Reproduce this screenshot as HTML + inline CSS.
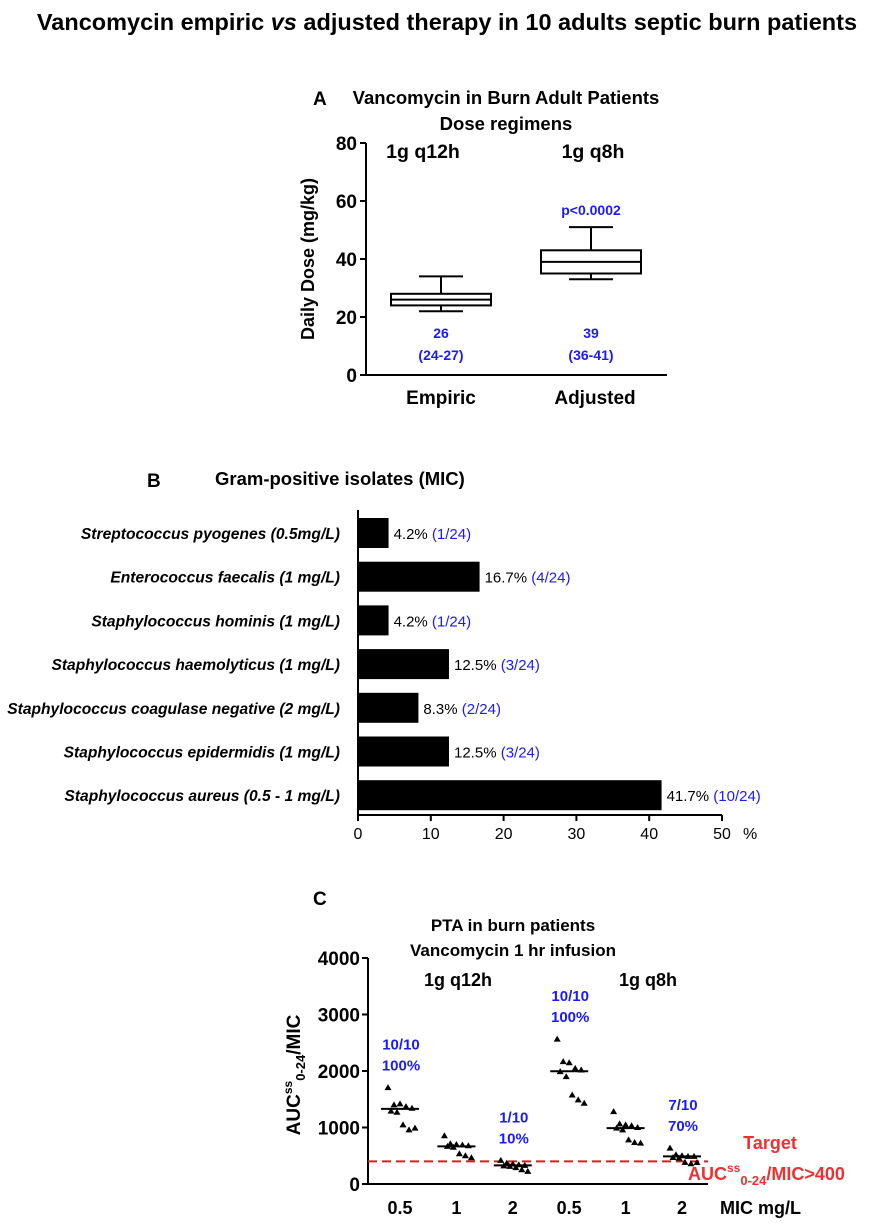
<!DOCTYPE html>
<html><head><meta charset="utf-8"><style>
body{margin:0;background:#fff;}
svg text{font-family:"Liberation Sans",sans-serif;}
</style></head><body>
<svg id="fig" width="894" height="1221" xmlns="http://www.w3.org/2000/svg">
<text x="447" y="30" text-anchor="middle" font-size="23.5" font-weight="bold">Vancomycin empiric <tspan font-style="italic">vs</tspan> adjusted therapy in 10 adults septic burn patients</text>
<g id="A"></g>
<g id="B"></g>
<g id="C"></g>
</svg>
<script>
// Panel A data
const aCategories=["Empiric","Adjusted"];
const aMin=[22,33],aQ1=[24,35],aMed=[26,39],aQ3=[28,43],aMax=[34,51];
const aTicks=[0,20,40,60,80];
const aLabels=[["26","(24-27)"],["39","(36-41)"]];
// Panel B data
const bCategories=["Streptococcus pyogenes (0.5mg/L)","Enterococcus faecalis (1 mg/L)","Staphylococcus  hominis (1 mg/L)","Staphylococcus haemolyticus (1 mg/L)","Staphylococcus  coagulase negative (2 mg/L)","Staphylococcus  epidermidis (1 mg/L)","Staphylococcus  aureus (0.5 - 1 mg/L)"];
const bValues=[4.2,16.7,4.2,12.5,8.3,12.5,41.7];
const bCounts=["(1/24)","(4/24)","(1/24)","(3/24)","(2/24)","(3/24)","(10/24)"];
const bTicks=[0,10,20,30,40,50];
// Panel C data
const cCategories=["0.5","1","2","0.5","1","2"];
const cPoints=[
 [1706,1400,1418,1370,1341,1290,1270,1047,959,988],
 [853,712,700,690,676,665,650,535,500,465],
 [418,370,355,340,330,320,312,290,253,223],
 [2565,2165,2147,2047,2018,1990,1900,1576,1488,1430],
 [1282,1065,1047,1030,1000,990,959,782,735,724],
 [635,518,500,490,488,470,459,382,359,380]];
const cMedians=[1330,665,330,1995,990,488];
const cTicks=[0,1000,2000,3000,4000];
const cLabels=[["10/10","100%"],null,["1/10","10%"],["10/10","100%"],null,["7/10","70%"]];
const cTarget=400;

const NS="http://www.w3.org/2000/svg";
function mk(p,tag,at,txt){const e=document.createElementNS(NS,tag);for(const k in at)e.setAttribute(k,at[k]);if(txt!==undefined)e.textContent=txt;p.appendChild(e);return e;}
const BLUE="#1a1aff";

// ---- Panel A
const A=document.getElementById('A');
const ay=v=>375-v*(232/80);
const ax=i=>441+i*150;
mk(A,'text',{x:313,y:105,'font-size':19,'font-weight':'bold'},'A');
mk(A,'text',{x:506,y:104,'text-anchor':'middle','font-size':18.5,'font-weight':'bold'},'Vancomycin in Burn Adult Patients');
mk(A,'text',{x:506,y:130,'text-anchor':'middle','font-size':18.5,'font-weight':'bold'},'Dose regimens');
mk(A,'line',{x1:366,y1:ay(80),x2:366,y2:ay(0)+1,stroke:'#000','stroke-width':2});
mk(A,'line',{x1:366,y1:ay(0),x2:667,y2:ay(0),stroke:'#000','stroke-width':2});
aTicks.forEach(t=>{
 const l=mk(A,'line',{x1:360,y1:ay(t),x2:366,y2:ay(t),stroke:'#000','stroke-width':2});
 
 const tx=mk(A,'text',{x:357,y:ay(t)+7,'text-anchor':'end','font-size':19,'font-weight':'bold'},String(t));
 
});
const yt=mk(A,'text',{x:0,y:0,'text-anchor':'middle','font-size':18,'font-weight':'bold',transform:'translate(314,259) rotate(-90)'},'Daily Dose (mg/kg)');

mk(A,'text',{x:423,y:158,'text-anchor':'middle','font-size':19.5,'font-weight':'bold'},'1g q12h');
mk(A,'text',{x:593,y:158,'text-anchor':'middle','font-size':19.5,'font-weight':'bold'},'1g q8h');
mk(A,'text',{x:591,y:215,'text-anchor':'middle','font-size':14,'font-weight':'bold',fill:BLUE},'p<0.0002');
aCategories.forEach((c,i)=>{
 const g=mk(A,'g',{});
 
 
 const cx=ax(i),hw=50,cw=22;
 mk(g,'line',{x1:cx,y1:ay(aMax[i]),x2:cx,y2:ay(aQ3[i]),stroke:'#000','stroke-width':2});
 mk(g,'line',{x1:cx,y1:ay(aMin[i]),x2:cx,y2:ay(aQ1[i]),stroke:'#000','stroke-width':2});
 mk(g,'line',{x1:cx-cw,y1:ay(aMax[i]),x2:cx+cw,y2:ay(aMax[i]),stroke:'#000','stroke-width':2});
 mk(g,'line',{x1:cx-cw,y1:ay(aMin[i]),x2:cx+cw,y2:ay(aMin[i]),stroke:'#000','stroke-width':2});
 mk(g,'rect',{x:cx-hw,y:ay(aQ3[i]),width:hw*2,height:ay(aQ1[i])-ay(aQ3[i]),fill:'#fff',stroke:'#000','stroke-width':2});
 mk(g,'line',{x1:cx-hw,y1:ay(aMed[i]),x2:cx+hw,y2:ay(aMed[i]),stroke:'#000','stroke-width':2});
 const t1=mk(A,'text',{x:cx,y:338,'text-anchor':'middle','font-size':14,'font-weight':'bold',fill:BLUE},aLabels[i][0]);
 
 const t2=mk(A,'text',{x:cx,y:360,'text-anchor':'middle','font-size':14,'font-weight':'bold',fill:BLUE},aLabels[i][1]);
 
 const xl=mk(A,'text',{x:cx+(i?4:0),y:404,'text-anchor':'middle','font-size':19,'font-weight':'bold'},c);
 
});

// ---- Panel B
const B=document.getElementById('B');
const bx=v=>358+v*7.28;
const by=i=>533+i*43.7;
mk(B,'text',{x:147,y:487,'font-size':19,'font-weight':'bold'},'B');
mk(B,'text',{x:215,y:485,'font-size':18.5,'font-weight':'bold'},'Gram-positive isolates (MIC)');
mk(B,'line',{x1:358,y1:510,x2:358,y2:816,stroke:'#000','stroke-width':2});
mk(B,'line',{x1:357,y1:815,x2:bx(50),y2:815,stroke:'#000','stroke-width':2});
bTicks.forEach(t=>{
 const l=mk(B,'line',{x1:bx(t),y1:815,x2:bx(t),y2:821,stroke:'#000','stroke-width':2});
 
 const tx=mk(B,'text',{x:bx(t),y:839,'text-anchor':'middle','font-size':16},String(t));
 
});
mk(B,'text',{x:743,y:839,'font-size':16},'%');
bCategories.forEach((c,i)=>{
 const r=mk(B,'rect',{x:358,y:by(i)-15,width:bx(bValues[i])-358,height:30,fill:'#000'});
 
 const lab=mk(B,'text',{x:340,y:by(i)+6,'text-anchor':'end','font-size':15.6,'font-weight':'bold','font-style':'italic'},c);
 
 const v=mk(B,'text',{x:bx(bValues[i])+5,y:by(i)+6,'font-size':15});
 
 mk(v,'tspan',{},bValues[i].toFixed(1)+'% ');
 mk(v,'tspan',{fill:BLUE},bCounts[i]);
});

// ---- Panel C
const C=document.getElementById('C');
const cy=v=>1184-v*0.0565;
const cx=i=>400+i*56.4;
mk(C,'text',{x:313,y:905,'font-size':19,'font-weight':'bold'},'C');
mk(C,'text',{x:513,y:931,'text-anchor':'middle','font-size':17,'font-weight':'bold'},'PTA in burn patients');
mk(C,'text',{x:513,y:956,'text-anchor':'middle','font-size':17,'font-weight':'bold'},'Vancomycin 1 hr infusion');
mk(C,'text',{x:458,y:986,'text-anchor':'middle','font-size':18,'font-weight':'bold'},'1g q12h');
mk(C,'text',{x:648,y:986,'text-anchor':'middle','font-size':18,'font-weight':'bold'},'1g q8h');
mk(C,'line',{x1:368,y1:cy(4000),x2:368,y2:cy(0)+1,stroke:'#000','stroke-width':2});
mk(C,'line',{x1:368,y1:cy(0),x2:708,y2:cy(0),stroke:'#000','stroke-width':2});
cTicks.forEach(t=>{
 const l=mk(C,'line',{x1:362,y1:cy(t),x2:368,y2:cy(t),stroke:'#000','stroke-width':2});
 
 const tx=mk(C,'text',{x:360,y:cy(t)+7,'text-anchor':'end','font-size':19,'font-weight':'bold'},String(t));
 
});
const ct=mk(C,'text',{x:0,y:0,'text-anchor':'middle','font-size':19,'font-weight':'bold',transform:'translate(300,1075) rotate(-90)'});

mk(ct,'tspan',{},'AUC');mk(ct,'tspan',{dy:-8,'font-size':12},'ss');mk(ct,'tspan',{dy:13,'font-size':13},'0-24');mk(ct,'tspan',{dy:-5},'/MIC');
const tl=mk(C,'line',{x1:368,y1:cy(cTarget),x2:708,y2:cy(cTarget),stroke:'#e31a1c','stroke-width':2,'stroke-dasharray':'9,5'});

mk(C,'text',{x:770,y:1149,'text-anchor':'middle','font-size':18,'font-weight':'bold',fill:'#f03030'},'Target');
const tt=mk(C,'text',{x:688,y:1180,'font-size':18,'font-weight':'bold',fill:'#f03030'});

mk(tt,'tspan',{},'AUC');mk(tt,'tspan',{dy:-8,'font-size':12},'ss');mk(tt,'tspan',{dy:13,'font-size':13},'0-24');mk(tt,'tspan',{dy:-5},'/MIC>400');
cCategories.forEach((c,i)=>{
 const x0=cx(i);
 cPoints[i].forEach((v,j)=>{
  const dx=((j%5)-2)*6+(j>=5?3:0);
  const px=x0+dx,py=cy(v);
  const p=mk(C,'polygon',{points:`${px},${py-3.5} ${px-3.5},${py+2.5} ${px+3.5},${py+2.5}`,fill:'#000'});
  
 });
 const m=mk(C,'line',{x1:x0-19,y1:cy(cMedians[i]),x2:x0+19,y2:cy(cMedians[i]),stroke:'#000','stroke-width':2});
 
 const xl=mk(C,'text',{x:x0,y:1214,'text-anchor':'middle','font-size':18,'font-weight':'bold'},c);
 
 if(cLabels[i]){
  const ly=cy(Math.max(...cPoints[i]))-38;
  const a=mk(C,'text',{x:x0+1,y:ly,'text-anchor':'middle','font-size':15,'font-weight':'bold',fill:BLUE},cLabels[i][0]);
  
  const b=mk(C,'text',{x:x0+1,y:ly+21,'text-anchor':'middle','font-size':15,'font-weight':'bold',fill:BLUE},cLabels[i][1]);
  
 }
});
mk(C,'text',{x:720,y:1214,'font-size':18,'font-weight':'bold'},'MIC mg/L');
</script>
</body></html>
